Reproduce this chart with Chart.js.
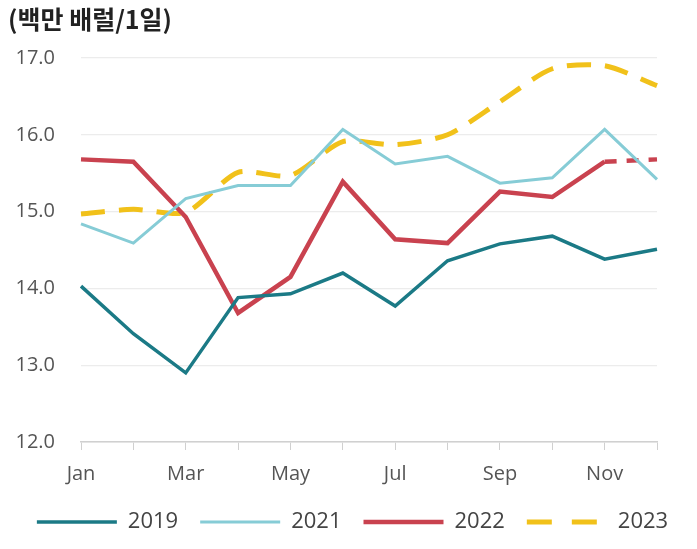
<!DOCTYPE html>
<html>
<head>
<meta charset="utf-8">
<script src="https://cdn.jsdelivr.net/npm/chart.js@4/dist/chart.umd.min.js"></script>
<style>
  html, body { margin: 0; padding: 0; background: #fff; }
  #wrap { width: 697px; height: 549px; }
</style>
</head>
<body>
<div id="wrap"><canvas id="oil-chart"></canvas></div>
<script>
// months on the x axis, only every other one gets a label
var months = ["Jan","Feb","Mar","Apr","May","Jun","Jul","Aug","Sep","Oct","Nov","Dec"];

// million barrels per day
var y2019 = [14.03,13.41,12.90,13.88,13.93,14.20,13.77,14.36,14.58,14.68,14.38,14.51];
var y2021 = [14.84,14.59,15.17,15.34,15.34,16.07,15.62,15.72,15.37,15.44,16.07,15.42];
var y2022 = [15.68,15.65,14.93,13.68,14.15,15.39,14.64,14.59,15.26,15.19,15.65,15.68];
var y2023 = [14.97,15.03,14.99,15.51,15.47,15.91,15.87,16.00,16.43,16.86,16.90,16.64];

var yTicks = [12, 13, 14, 15, 16, 17];

var tickFont = { family: "'Open Sans', 'Noto Sans', sans-serif", size: 20 };

var oilChart = new Chart(document.getElementById("oil-chart"), {
  type: 'line',
  data: {
    labels: months,
    datasets: [
      { label: "2019", data: y2019, borderColor: "#1b7a86", borderWidth: 3.5, pointRadius: 0, tension: 0 },
      { label: "2021", data: y2021, borderColor: "#86ccd6", borderWidth: 3, pointRadius: 0, tension: 0 },
      { label: "2022", data: y2022, borderColor: "#c9424f", borderWidth: 4.5, pointRadius: 0, tension: 0,
        // last month is an estimate, drawn dashed
        segment: { borderDash: function(ctx) { return ctx.p1DataIndex === 11 ? [12, 10] : undefined; } } },
      { label: "2023", data: y2023, borderColor: "#f1c11a", borderWidth: 5, borderDash: [24, 14],
        pointRadius: 0, tension: 0.25 }
    ]
  },
  options: {
    responsive: true,
    maintainAspectRatio: false,
    animation: false,
    layout: { padding: { left: 8, right: 0, top: 0, bottom: 16 } },
    plugins: {
      title: {
        display: true,
        text: "(백만 배럴/1일)",
        align: 'start',
        color: "#222",
        font: { family: "'Noto Sans CJK KR', 'Noto Sans', sans-serif", size: 25, weight: '600' },
        padding: { top: 4, bottom: 24 }
      },
      legend: {
        position: 'bottom',
        maxHeight: 44,
        labels: {
          usePointStyle: true,
          pointStyle: 'line',
          pointStyleWidth: 80,
          padding: 22,
          color: "#444",
          font: { family: "'Open Sans', 'Noto Sans', sans-serif", size: 22 },
          generateLabels: function(chart) {
            var items = Chart.defaults.plugins.legend.labels.generateLabels(chart);
            items.forEach(function(it) {
              it.pointStyle = 'line';
              if (it.text === "2023") it.lineDash = [25, 20];
              else it.lineDash = [];
            });
            return items;
          }
        }
      },
      tooltip: { enabled: false }
    },
    scales: {
      x: {
        offset: false,
        afterFit: function(scale) { scale.height = 47; },
        grid: { display: true, drawOnChartArea: false, drawTicks: true, tickLength: 8, color: "#d0d0d0" },
        border: { display: true, color: "#d0d0d0", width: 1.5 },
        ticks: {
          autoSkip: false,
          maxRotation: 0,
          padding: 12,
          color: "#555",
          font: tickFont,
          callback: function(val, i) { return i % 2 === 0 ? months[i] : ""; }
        }
      },
      y: {
        min: yTicks[0],
        max: yTicks[yTicks.length - 1],
        afterBuildTicks: function(scale) {
          scale.ticks = yTicks.map(function(v) { return { value: v }; });
        },
        afterFit: function(scale) { scale.width = 73; },
        grid: { color: "#ececec", drawTicks: false, lineWidth: 1.2 },
        border: { display: false },
        ticks: {
          padding: 26,
          color: "#555",
          font: tickFont,
          callback: function(v) { return Number(v).toFixed(1); }
        }
      },
      // empty axis that only keeps a white margin on the right
      yRight: {
        position: 'right',
        grid: { display: false },
        border: { display: false },
        ticks: { display: false },
        afterFit: function(scale) { scale.width = 40; }
      }
    }
  }
});
</script>
</body>
</html>
